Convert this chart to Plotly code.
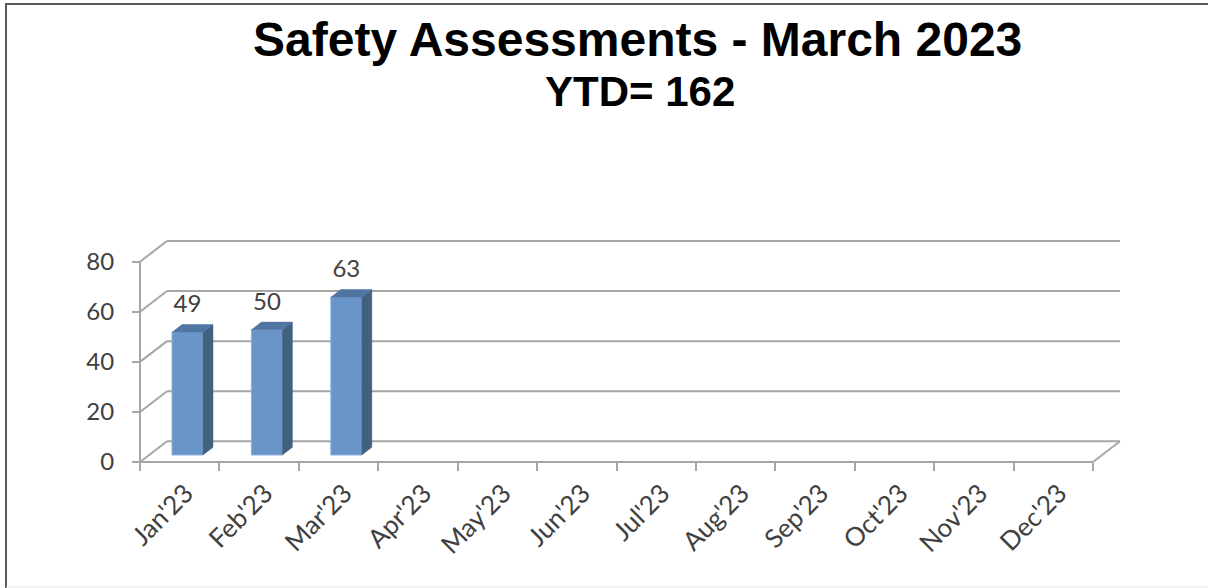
import plotly.graph_objects as go

# ---------------- data ----------------
months = ["Jan'23", "Feb'23", "Mar'23", "Apr'23", "May'23", "Jun'23",
          "Jul'23", "Aug'23", "Sep'23", "Oct'23", "Nov'23", "Dec'23"]
assessments = [49, 50, 63]
y_ticks = [0, 20, 40, 60, 80]
title_line1 = "Safety Assessments - March 2023"
title_line2 = "YTD= 162"

# ---------------- styling / 3-D geometry ----------------
W, H = 1208, 588
XPX, YPX = 79.42, 2.503          # pixels per category / per unit
FRONT_LEFT, FRONT_BOTTOM = 140, 462
PAD = 4
DX, DY = 27 / XPX, 20.7 / YPX    # depth of the floor/back wall
BAR_BASE = 7 / YPX
BAR_OFFSET, BAR_WIDTH = -0.097, 0.39
SIDE_X, SIDE_Y = 10 / XPX, 7.7 / YPX
LABEL_LIFT = 26 / YPX

GRID = "#a6a6a6"
FRONT = "#6a95c9"
TOP = "#4f75a2"
SIDE = "#42607f"
TXT = "#404040"

n = len(months)
x_min = -0.5 - PAD / XPX
x_max = n - 0.5 + DX + PAD / XPX
y_min = -PAD / YPX
y_max = y_ticks[-1] + DY + PAD / YPX
pw = (x_max - x_min) * XPX
ph = (y_max - y_min) * YPX
ml = FRONT_LEFT - PAD
mb = H - FRONT_BOTTOM - PAD
mr = W - ml - pw
mt = H - mb - ph


def px(xp):
    return (xp - ml) / pw


def py(yp):
    return (H - mb - yp) / ph


fig = go.Figure()

# bars (front faces)
xs = list(range(len(assessments)))
fig.add_trace(go.Bar(
    x=xs, y=assessments, base=BAR_BASE, offset=BAR_OFFSET, width=BAR_WIDTH,
    marker=dict(color=FRONT, line=dict(color="#8db0dc", width=1)),
    hoverinfo="skip", showlegend=False))

# side and top faces
sx, sy, tx, ty = [], [], [], []
for i, v in zip(xs, assessments):
    xl = i + BAR_OFFSET
    xr = xl + BAR_WIDTH
    top = BAR_BASE + v
    sx += [xr, xr, xr + SIDE_X, xr + SIDE_X, xr, None]
    sy += [BAR_BASE, top, top + SIDE_Y, BAR_BASE + SIDE_Y, BAR_BASE, None]
    tx += [xl, xr, xr + SIDE_X, xl + SIDE_X, xl, None]
    ty += [top, top, top + SIDE_Y, top + SIDE_Y, top, None]
fig.add_trace(go.Scatter(x=sx, y=sy, fill="toself", fillcolor=SIDE, mode="lines",
                         line=dict(color=SIDE, width=0.5), hoverinfo="skip", showlegend=False))
fig.add_trace(go.Scatter(x=tx, y=ty, fill="toself", fillcolor=TOP, mode="lines",
                         line=dict(color=TOP, width=0.5), hoverinfo="skip", showlegend=False))

# data labels
fig.add_trace(go.Scatter(
    x=[i + BAR_OFFSET + BAR_WIDTH / 2 for i in xs],
    y=[BAR_BASE + v + LABEL_LIFT for v in assessments],
    mode="text", text=[str(v) for v in assessments], textposition="middle center",
    textfont=dict(family="Lato", size=24, color=TXT),
    hoverinfo="skip", showlegend=False))

# helper trace on the tick-mark axis
fig.add_trace(go.Scatter(x=[0], y=[0], xaxis="x2", mode="markers",
                         marker=dict(opacity=0), hoverinfo="skip", showlegend=False))

# walls / gridlines
shapes = []
def seg(x0, y0, x1, y1):
    shapes.append(dict(type="line", xref="x", yref="y", x0=x0, y0=y0, x1=x1, y1=y1,
                       line=dict(color=GRID, width=2), layer="below"))

for v in y_ticks:
    seg(-0.5 + DX, v + DY, n - 0.5 + DX, v + DY)
    seg(-0.5, v, -0.5 + DX, v + DY)
seg(-0.5, 0, -0.5, y_ticks[-1])
seg(-0.5, 0, n - 0.5, 0)
seg(n - 0.5, 0, n - 0.5 + DX, DY)

# outer border (top and left)
shapes.append(dict(type="line", xref="paper", yref="paper",
                   x0=px(5), y0=py(4), x1=px(W + 2), y1=py(4),
                   line=dict(color="#595959", width=2)))
shapes.append(dict(type="line", xref="paper", yref="paper",
                   x0=px(6), y0=py(3), x1=px(6), y1=py(H + 2),
                   line=dict(color="#595959", width=2)))
shapes.append(dict(type="line", xref="paper", yref="paper",
                   x0=px(6), y0=py(587), x1=px(W + 2), y1=py(587),
                   line=dict(color="#e6e6e6", width=1)))

annotations = [
    dict(text="<b>" + title_line1 + "</b>", xref="paper", yref="paper",
         x=px(638), y=py(40), xanchor="center", yanchor="middle", showarrow=False,
         font=dict(family="Liberation Sans", size=48, color="#000000")),
    dict(text="<b>" + title_line2 + "</b>", xref="paper", yref="paper",
         x=px(640), y=py(92), xanchor="center", yanchor="middle", showarrow=False,
         font=dict(family="Liberation Sans", size=42, color="#000000")),
]

fig.update_layout(
    width=W, height=H,
    margin=dict(l=ml, r=mr, t=mt, b=mb, pad=0),
    paper_bgcolor="white", plot_bgcolor="white",
    showlegend=False, shapes=shapes, annotations=annotations,
    xaxis=dict(range=[x_min, x_max], tickvals=list(range(n)), ticktext=months,
               tickangle=-45, ticks="", showgrid=False, zeroline=False, showline=False,
               anchor="free", position=PAD / ph, ticklabelstandoff=10, ticklabelshift=6,
               tickfont=dict(family="Lato", size=26, color=TXT), fixedrange=True),
    xaxis2=dict(range=[x_min, x_max], overlaying="x", anchor="free", position=PAD / ph,
                side="bottom", tickvals=[i - 0.5 for i in range(n + 1)], showticklabels=False,
                ticks="outside", ticklen=8, tickwidth=2, tickcolor=GRID,
                showgrid=False, zeroline=False, showline=False, fixedrange=True),
    yaxis=dict(range=[y_min, y_max], tickvals=y_ticks, ticks="outside", ticklen=8,
               tickwidth=2, tickcolor=GRID, showgrid=False, zeroline=False, showline=False,
               anchor="free", position=PAD / pw, ticklabelstandoff=13,
               tickfont=dict(family="Lato", size=24, color=TXT), fixedrange=True),
)

fig.write_html("out.html", config={"displayModeBar": False},
               post_script="document.body.style.margin='0';document.body.style.overflow='hidden';")
